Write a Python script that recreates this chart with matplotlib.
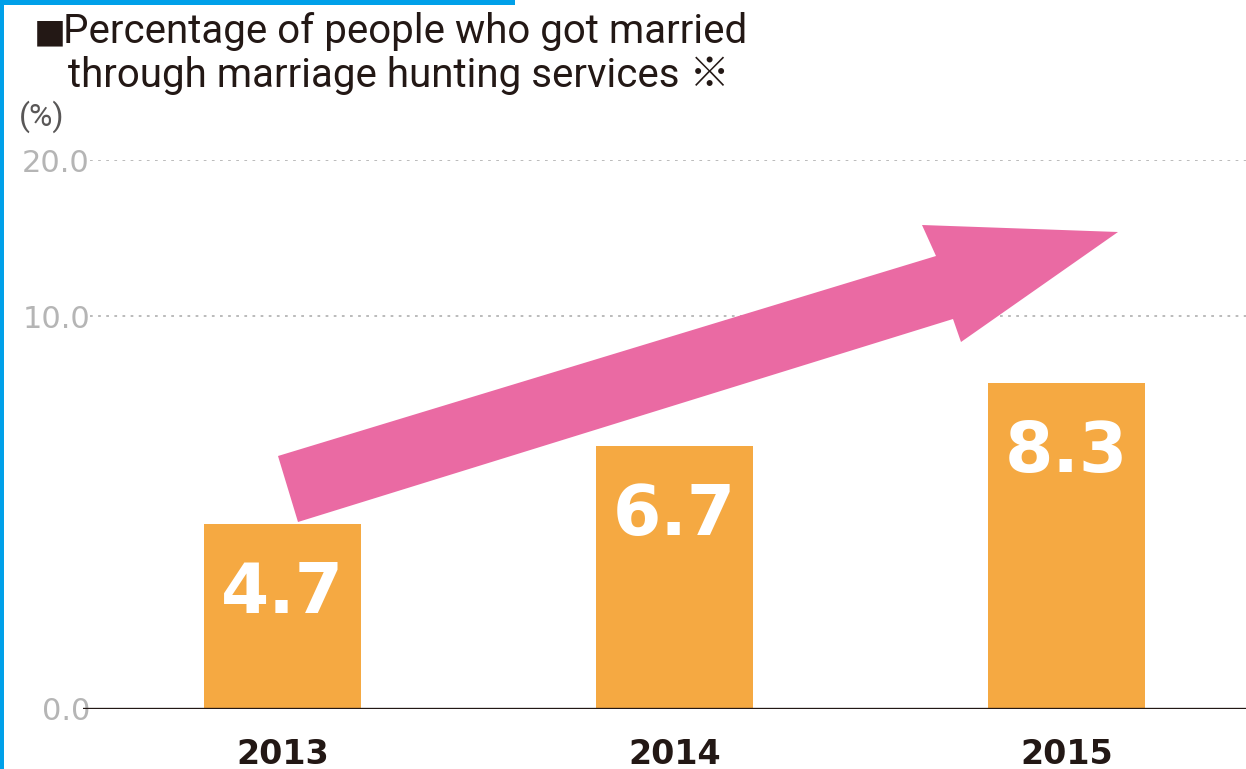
import numpy as np
import matplotlib
matplotlib.use("Agg")
import matplotlib.pyplot as plt
from matplotlib.patches import Polygon, Rectangle

# survey values (%)
years = ["2013", "2014", "2015"]
rates = [4.7, 6.7, 8.3]
y_ticks = [0.0, 10.0, 20.0]

BAR = "#f5a942"
PINK = "#ea6aa3"
BLUE = "#00a0e9"
INK = "#231815"
GREY = "#b5b5b5"

W, H = 1246, 769
fig = plt.figure(figsize=(W / 100, H / 100), dpi=100)

# axes box in pixels: left, right, bottom (0.0 line), top (20.0 line)
L, R, B, T = 83, 1246, 709, 160
ax = fig.add_axes([L / W, 1 - B / H, (R - L) / W, (B - T) / H])

# the lower half of the scale (0-10) is stretched, 10-20 squeezed
knots_v = [-100, 0, 10, 20, 100]
knots_p = [-3930, 0, 393, 549, 549 + 80 * 15.6]


def fwd(v):
    return np.interp(v, knots_v, knots_p)


def inv(p):
    return np.interp(p, knots_p, knots_v)


ax.set_yscale("function", functions=(fwd, inv))
ax.set_ylim(0, 20)

x = np.arange(len(years))
ax.set_xlim(-0.509, 2.458)
bars = ax.bar(x, rates, width=0.40, color=BAR, zorder=3)

for xi, v in zip(x, rates):
    ax.annotate(f"{v:.1f}", (xi, v), xytext=(0, -26), textcoords="offset points",
                ha="center", va="top", color="white", fontsize=50,
                fontweight="bold", family="DejaVu Sans", zorder=4)

# dotted gridlines and the baseline
for t in y_ticks[1:]:
    ax.axhline(t, xmin=0.006, color=GREY, lw=1.3, ls=(0, (1.5, 3)), zorder=1)
ax.axhline(0, color=INK, lw=2.4, zorder=5)

ax.set_yticks(y_ticks)
ax.set_yticklabels([f"{t:.1f}" for t in y_ticks])
ax.tick_params(axis="y", length=0, pad=-5, labelsize=22, labelcolor=GREY)
ax.set_xticks(x)
ax.set_xticklabels(years)
ax.tick_params(axis="x", length=0, pad=21, labelsize=24, labelcolor=INK)
for lab in ax.get_xticklabels():
    lab.set_fontweight("bold")
for s in ax.spines.values():
    s.set_visible(False)
ax.patch.set_alpha(0)

# rising arrow over the bars (pixel outline, top-left origin)
arrow_px = [(278, 456), (936, 256), (922, 225), (1118, 232),
            (961, 342), (953, 319), (298, 522)]
arrow = Polygon([(px / W, 1 - py / H) for px, py in arrow_px],
                closed=True, transform=fig.transFigure, color=PINK, lw=0, zorder=6)
fig.patches.append(arrow)

# blue frame lines at top and left
fig.patches.append(Rectangle((0, 1 - 5 / H), 515 / W, 5 / H,
                             transform=fig.transFigure, color=BLUE, lw=0))
fig.patches.append(Rectangle((0, 0), 4 / W, 1,
                             transform=fig.transFigure, color=BLUE, lw=0))

title_fonts = ["Roboto", "Noto Sans CJK JP", "DejaVu Sans"]
fig.text(34 / W, 1 - 45 / H, "\u25a0", fontsize=23, color=INK,
         family=title_fonts, va="baseline")
fig.text(63 / W, 1 - 43 / H, "Percentage of people who got married",
         fontsize=29, color=INK, family=title_fonts, va="baseline")
fig.text(68 / W, 1 - 87 / H, "through marriage hunting services \u203b",
         fontsize=29, color=INK, family=title_fonts, va="baseline")
fig.text(19 / W, 1 - 126 / H, "(%)", fontsize=23, color="#595757",
         family="Roboto", va="baseline")

fig.savefig("out.png", dpi=100)
